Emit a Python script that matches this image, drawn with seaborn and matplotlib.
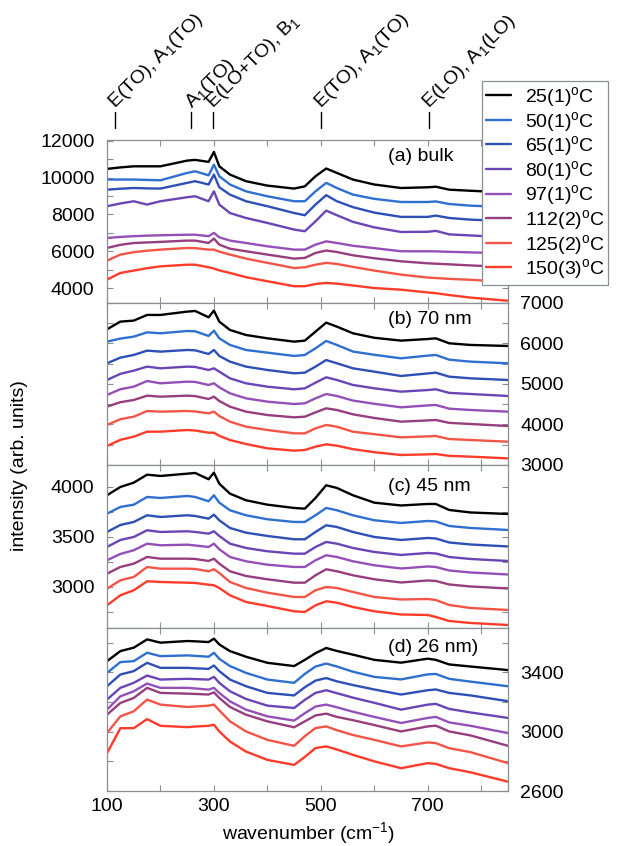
import pandas as pd
import matplotlib
matplotlib.use('Agg')
import matplotlib.pyplot as plt
import matplotlib.transforms as mtransforms
from matplotlib.ticker import MultipleLocator
import seaborn as sns

# shared wavenumber grid (cm^-1)
wavenumber = [100, 125, 150, 175, 200, 250, 265, 290, 300, 310, 330, 360, 400,
              450, 470, 490, 510, 530, 560, 600, 650, 700, 715, 740, 780, 850]
temps = ['25(1)', '50(1)', '65(1)', '80(1)', '97(1)', '112(2)', '125(2)', '150(3)']
colors = ['#000000', '#2f6fd0', '#2e4fb5', '#6a45b5', '#9550b8', '#963e7e', '#f25548', '#ff3b2a']

# (a) bulk
bulk = [
    [10480, 10560, 10620, 10620, 10620, 10930, 10970, 10860, 11400, 10620, 10170, 9810, 9570, 9410, 9530, 10080, 10500, 10260, 9900, 9630, 9440, 9480, 9510, 9350, 9290, 9200],
    [9900, 9900, 9900, 9880, 9860, 10260, 10350, 10130, 10710, 10080, 9630, 9260, 8990, 8720, 8720, 9260, 9720, 9440, 9080, 8850, 8680, 8680, 8710, 8570, 8480, 8400],
    [9350, 9400, 9440, 9420, 9410, 9720, 9810, 9630, 10170, 9480, 9080, 8720, 8450, 8080, 7960, 8540, 9050, 8720, 8400, 8100, 7870, 7870, 7940, 7810, 7720, 7640],
    [8450, 8600, 8720, 8540, 8720, 8940, 8990, 8720, 9260, 8540, 8080, 7810, 7540, 7180, 7090, 7630, 8210, 7960, 7600, 7300, 7050, 7060, 7110, 6920, 6860, 6760],
    [6720, 6780, 6820, 6850, 6870, 6900, 6900, 6820, 7000, 6760, 6580, 6450, 6270, 6090, 6090, 6360, 6540, 6450, 6300, 6170, 6000, 6000, 5995, 5970, 5940, 5880],
    [6180, 6350, 6450, 6480, 6510, 6580, 6580, 6450, 6690, 6360, 6140, 6000, 5820, 5600, 5640, 5910, 6040, 5960, 5780, 5620, 5455, 5345, 5325, 5290, 5230, 5140],
    [5490, 5820, 5950, 6030, 6090, 6180, 6170, 6090, 6090, 5980, 5820, 5600, 5370, 5090, 5130, 5270, 5370, 5310, 5150, 4950, 4730, 4570, 4545, 4500, 4450, 4330],
    [4460, 4820, 4950, 5080, 5180, 5270, 5270, 5130, 5060, 4960, 4820, 4590, 4370, 4100, 4100, 4220, 4280, 4240, 4140, 4000, 3910, 3760, 3720, 3620, 3480, 3310],
]
# (b) 70 nm
nm70 = [
    [6349, 6539, 6564, 6704, 6704, 6786, 6802, 6646, 6811, 6539, 6333, 6209, 6127, 6045, 6070, 6292, 6514, 6415, 6251, 6140, 6070, 6110, 6127, 6004, 5963, 5938],
    [6045, 6120, 6168, 6275, 6251, 6308, 6300, 6185, 6317, 6127, 5963, 5839, 5773, 5691, 5716, 5880, 6061, 5963, 5800, 5720, 5633, 5700, 5716, 5600, 5551, 5510],
    [5510, 5650, 5716, 5823, 5798, 5839, 5830, 5740, 5839, 5691, 5551, 5428, 5345, 5263, 5279, 5428, 5590, 5510, 5386, 5304, 5197, 5260, 5279, 5180, 5139, 5098],
    [5098, 5250, 5329, 5428, 5386, 5428, 5420, 5345, 5386, 5304, 5139, 5016, 4933, 4868, 4892, 5032, 5164, 5098, 4975, 4892, 4810, 4850, 4868, 4780, 4752, 4703],
    [4728, 4870, 4933, 5073, 5016, 5057, 5050, 4975, 5016, 4917, 4769, 4645, 4563, 4505, 4522, 4645, 4752, 4703, 4590, 4510, 4423, 4470, 4481, 4390, 4357, 4316],
    [4439, 4550, 4604, 4711, 4686, 4711, 4700, 4629, 4686, 4579, 4439, 4316, 4233, 4176, 4192, 4299, 4398, 4357, 4250, 4160, 4069, 4100, 4110, 4040, 4011, 3962],
    [3987, 4130, 4192, 4332, 4316, 4332, 4320, 4275, 4316, 4209, 4069, 3945, 3863, 3781, 3781, 3904, 3987, 3945, 3820, 3760, 3682, 3705, 3715, 3640, 3616, 3575],
    [3468, 3620, 3699, 3822, 3822, 3863, 3850, 3797, 3797, 3720, 3616, 3517, 3410, 3353, 3369, 3452, 3509, 3476, 3390, 3315, 3246, 3262, 3270, 3225, 3205, 3163],
]
# (c) 45 nm
nm45 = [
    [3917, 4000, 4043, 4123, 4110, 4133, 4140, 4077, 4143, 4033, 3933, 3867, 3823, 3790, 3783, 3890, 4017, 3990, 3917, 3843, 3815, 3830, 3830, 3770, 3745, 3730],
    [3733, 3800, 3823, 3900, 3890, 3910, 3900, 3857, 3917, 3843, 3767, 3717, 3677, 3650, 3650, 3717, 3790, 3767, 3717, 3667, 3640, 3660, 3655, 3610, 3590, 3570],
    [3550, 3620, 3650, 3717, 3700, 3717, 3710, 3683, 3723, 3667, 3590, 3543, 3510, 3477, 3477, 3550, 3617, 3600, 3550, 3500, 3470, 3490, 3485, 3445, 3425, 3405],
    [3400, 3470, 3500, 3567, 3550, 3557, 3550, 3533, 3557, 3510, 3433, 3390, 3357, 3333, 3333, 3400, 3450, 3433, 3390, 3350, 3320, 3340, 3335, 3300, 3280, 3260],
    [3267, 3330, 3367, 3433, 3417, 3423, 3415, 3400, 3433, 3377, 3300, 3257, 3223, 3200, 3200, 3267, 3317, 3300, 3257, 3217, 3185, 3205, 3200, 3165, 3145, 3125],
    [3133, 3200, 3233, 3300, 3283, 3283, 3280, 3260, 3283, 3233, 3157, 3110, 3077, 3043, 3043, 3117, 3177, 3157, 3117, 3077, 3045, 3065, 3060, 3025, 3005, 2985],
    [2983, 3067, 3100, 3200, 3183, 3183, 3180, 3157, 3177, 3140, 3050, 2990, 2943, 2900, 2900, 2967, 3000, 2990, 2950, 2900, 2875, 2880, 2870, 2820, 2790, 2770],
    [2817, 2917, 2967, 3057, 3050, 3043, 3040, 3023, 3017, 2990, 2917, 2850, 2810, 2757, 2750, 2817, 2857, 2843, 2800, 2757, 2725, 2720, 2700, 2660, 2640, 2620],
]
# (d) 26 nm
nm26 = [
    [3476, 3544, 3567, 3623, 3601, 3612, 3610, 3605, 3628, 3589, 3544, 3506, 3465, 3443, 3485, 3530, 3565, 3545, 3520, 3485, 3466, 3493, 3485, 3454, 3440, 3416],
    [3397, 3470, 3476, 3533, 3510, 3515, 3512, 3506, 3533, 3492, 3443, 3397, 3352, 3330, 3390, 3440, 3460, 3440, 3405, 3370, 3353, 3387, 3390, 3357, 3338, 3307],
    [3307, 3386, 3409, 3465, 3431, 3431, 3428, 3424, 3447, 3409, 3352, 3307, 3262, 3245, 3300, 3345, 3362, 3340, 3315, 3285, 3251, 3280, 3285, 3262, 3245, 3206],
    [3217, 3296, 3330, 3379, 3352, 3357, 3355, 3352, 3370, 3330, 3273, 3221, 3176, 3160, 3215, 3262, 3280, 3260, 3230, 3195, 3149, 3183, 3188, 3154, 3130, 3093],
    [3149, 3239, 3273, 3325, 3296, 3296, 3292, 3284, 3296, 3262, 3205, 3149, 3104, 3075, 3125, 3170, 3183, 3165, 3135, 3100, 3059, 3093, 3100, 3063, 3040, 2991],
    [3115, 3194, 3228, 3296, 3262, 3257, 3255, 3251, 3266, 3228, 3167, 3115, 3070, 3030, 3070, 3110, 3122, 3100, 3078, 3045, 3002, 3036, 3041, 3002, 2975, 2905],
    [2991, 3104, 3138, 3217, 3183, 3167, 3170, 3176, 3183, 3144, 3070, 3002, 2945, 2905, 2970, 3025, 3036, 3010, 2978, 2945, 2901, 2928, 2923, 2889, 2862, 2788],
    [2855, 3024, 3024, 3085, 3040, 3031, 3035, 3040, 3047, 3002, 2934, 2866, 2810, 2776, 2830, 2890, 2901, 2880, 2844, 2800, 2754, 2788, 2783, 2754, 2726, 2663],
]

panel_labels = ['(a) bulk', '(b) 70 nm', '(c) 45 nm', '(d) 26 nm)']
mode_pos = [115, 258, 298, 500, 702]
mode_labels = ['E(TO), A$_1$(TO)', 'A$_1$(TO)', 'E(LO+TO), B$_1$',
               'E(TO), A$_1$(TO)', 'E(LO), A$_1$(LO)']

sns.set_style('ticks')
plt.rcParams['font.family'] = ['Liberation Sans', 'DejaVu Sans']
plt.rcParams['mathtext.fontset'] = 'custom'
plt.rcParams['mathtext.rm'] = 'Liberation Sans'
plt.rcParams['mathtext.it'] = 'Liberation Sans:italic'
plt.rcParams['font.size'] = 14
plt.rcParams['text.color'] = 'black'

legend_names = [t + '$^{\\rm o}$C' for t in temps]
palette = dict(zip(legend_names, colors))

fig = plt.figure(figsize=(6.21, 8.46), dpi=100)
left, width = 0.1723, 0.6457
boxes = [(0.6418, 0.1927), (0.4504, 0.1915), (0.2577, 0.1927), (0.0650, 0.1927)]
ylims = [(3185, 12050), (3000, 7000), (2590, 4220), (2600, 3700)]
majors = [(2000, 0), (1000, 0), (500, 0), (400, 200)]
minors = [1000, 500, 250, 200]
label_y = [0.90, 0.895, 0.865, 0.88]
spine_col = '#8a8f96'

axes = []
for i, (spectra, (b, h)) in enumerate(zip([bulk, nm70, nm45, nm26], boxes)):
    ax = fig.add_axes([left, b, width, h])
    rows = []
    for name, vals in zip(legend_names, spectra):
        for x, v in zip(wavenumber, vals):
            rows.append({'wavenumber': x, 'intensity': v, 'T': name})
    df = pd.DataFrame(rows)
    sns.lineplot(data=df, x='wavenumber', y='intensity', hue='T', palette=palette,
                 hue_order=legend_names, estimator=None, sort=False, lw=1.7,
                 ax=ax, legend=(i == 0))
    ax.set_xlim(100, 850)
    ax.set_ylim(*ylims[i])
    ax.xaxis.set_major_locator(MultipleLocator(200, offset=100))
    ax.xaxis.set_minor_locator(MultipleLocator(100))
    ax.yaxis.set_major_locator(MultipleLocator(majors[i][0], offset=majors[i][1]))
    ax.yaxis.set_minor_locator(MultipleLocator(minors[i]))
    ax.set_xlabel('')
    ax.set_ylabel('')
    ax.tick_params(which='both', direction='in', top=True, bottom=True,
                   left=True, right=True, length=4, width=0.8, color=spine_col,
                   labelcolor='black', labelsize=14, pad=9)
    ax.tick_params(axis='x', labelbottom=(i == 3), pad=5)
    if i % 2 == 1:
        ax.tick_params(axis='y', labelleft=False, labelright=True)
    for s in ax.spines.values():
        s.set_color(spine_col)
        s.set_linewidth(0.9)
    ax.text(0.70, label_y[i], panel_labels[i], transform=ax.transAxes,
            ha='left', va='center', fontsize=14)
    axes.append(ax)

# mode markers above panel (a)
ax_a = axes[0]
trans = mtransforms.blended_transform_factory(ax_a.transData, ax_a.transAxes)
for xm, lab in zip(mode_pos, mode_labels):
    ax_a.plot([xm, xm], [1.074, 1.17], color='k', lw=1.0, transform=trans, clip_on=False)
    ax_a.text(xm, 1.19, lab, transform=trans, rotation=45, rotation_mode='anchor',
              ha='left', va='baseline', fontsize=14)

handles, labels = ax_a.get_legend_handles_labels()
ax_a.get_legend().remove()
leg = fig.legend(handles, labels, loc='upper left', bbox_to_anchor=(0.776, 0.904),
                 fontsize=14, frameon=True, fancybox=False, framealpha=1,
                 handlelength=1.3, handletextpad=0.7, labelspacing=0.03,
                 borderpad=0.2, borderaxespad=0)
leg.get_frame().set_edgecolor(spine_col)
leg.get_frame().set_linewidth(0.9)
for line in leg.get_lines():
    line.set_linewidth(1.7)

fig.text(0.032, 0.45, 'intensity (arb. units)', rotation=90, ha='center',
         va='center', fontsize=14)
fig.text(0.497, 0.0, 'wavenumber (cm$^{-1}$)', ha='center', va='bottom', fontsize=14)

fig.savefig('out.png', dpi=100)
